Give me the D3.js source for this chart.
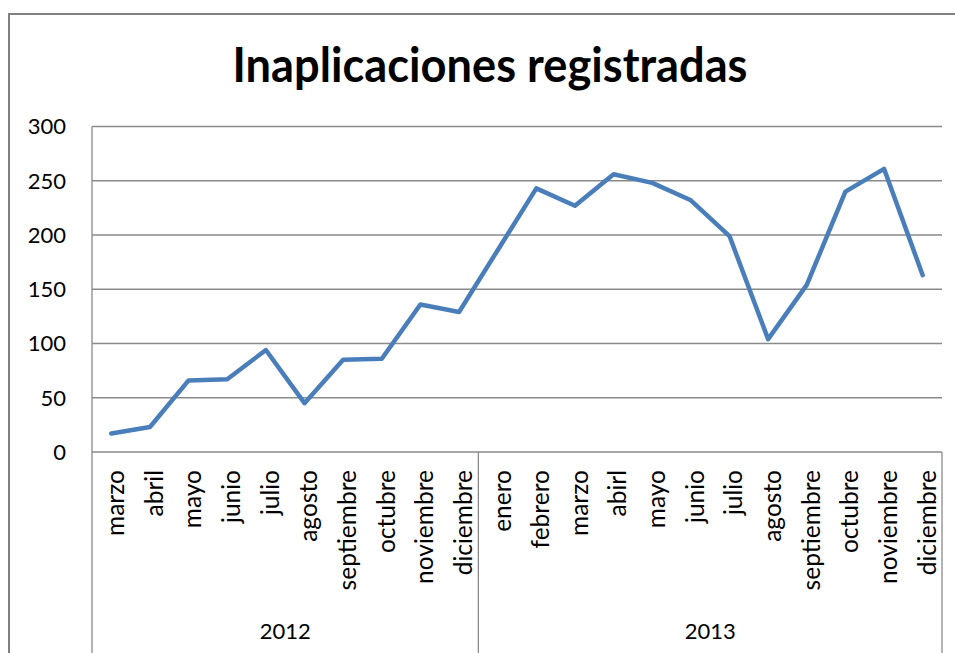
<!DOCTYPE html>
<html>
<head>
<meta charset="utf-8">
<script src="https://cdn.jsdelivr.net/npm/d3@7"></script>
<style>
  html, body { margin: 0; padding: 0; background: #fff; overflow: hidden; }
  text { font-family: Lato, "Open Sans", sans-serif; fill: #000; }
</style>
</head>
<body>
<div id="chart"></div>
<script>
const title = "Inaplicaciones registradas";
const years = ["2012", "2013"];
const months2012 = ["marzo", "abril", "mayo", "junio", "julio", "agosto", "septiembre", "octubre", "noviembre", "diciembre"];
const months2013 = ["enero", "febrero", "marzo", "abirl", "mayo", "junio", "julio", "agosto", "septiembre", "octubre", "noviembre", "diciembre"];
const values2012 = [17, 23, 66, 67, 94, 45, 85, 86, 136, 129];
const values2013 = [186, 243, 227, 256, 248, 232, 199, 104, 154, 240, 261, 163];
const yTicks = [0, 50, 100, 150, 200, 250, 300];

(function () {
  const width = 955;
  const height = 653;
  const margin = { top: 126.5, bottom: 201, left: 92, right: 13 };

  // flatten year / month into one list of points
  const points = [
    ...months2012.map((m, i) => ({ year: years[0], month: m, value: values2012[i] })),
    ...months2013.map((m, i) => ({ year: years[1], month: m, value: values2013[i] })),
  ].map((d, i) => ({ ...d, key: i }));

  const svg = d3.select("#chart").append("svg").attr("width", width).attr("height", height);

  // outer chart frame (cut by the page on the right and bottom)
  svg.append("rect")
    .attr("x", 9).attr("y", 14)
    .attr("width", 1000).attr("height", 700)
    .attr("fill", "none")
    .attr("stroke", "#808080")
    .attr("stroke-width", 2);

  svg.append("text")
    .attr("x", 490).attr("y", 82)
    .attr("text-anchor", "middle")
    .attr("font-size", "47px")
    .attr("font-weight", "bold")
    .attr("textLength", 515)
    .attr("lengthAdjust", "spacingAndGlyphs")
    .text(title);

  const x = d3.scaleBand().domain(points.map(d => d.key)).range([margin.left, width - margin.right]);
  const y = d3.scaleLinear().domain([0, 300]).range([height - margin.bottom, margin.top]);

  const gridColor = "#8a8a8a";

  svg.append("g")
    .selectAll("line")
    .data(yTicks)
    .join("line")
    .attr("x1", margin.left).attr("x2", width - margin.right)
    .attr("y1", d => y(d)).attr("y2", d => y(d))
    .attr("stroke", gridColor)
    .attr("stroke-width", 1.3);

  svg.append("g")
    .selectAll("text")
    .data(yTicks)
    .join("text")
    .attr("x", 66)
    .attr("y", d => y(d))
    .attr("dy", "0.36em")
    .attr("text-anchor", "end")
    .attr("font-size", "22px")
    .attr("fill", "#1a1a1a")
    .text(d => d);

  // category axis box: left axis, year separator, right edge
  const yearBounds = years.map(yr => {
    const keys = points.filter(d => d.year === yr).map(d => d.key);
    return { year: yr, x0: x(keys[0]), x1: x(keys[keys.length - 1]) + x.bandwidth() };
  });
  const edges = [margin.left, ...yearBounds.map(d => d.x1)];

  svg.append("g")
    .selectAll("line")
    .data(edges)
    .join("line")
    .attr("x1", d => d).attr("x2", d => d)
    .attr("y1", (d, i) => (i === 0 ? margin.top : y(0)))
    .attr("y2", height)
    .attr("stroke", gridColor)
    .attr("stroke-width", 1.3);

  svg.append("g")
    .selectAll("text")
    .data(points)
    .join("text")
    .attr("transform", d => `translate(${x(d.key) + x.bandwidth() / 2 + 4}, 470) rotate(-90)`)
    .attr("dy", "0.36em")
    .attr("text-anchor", "end")
    .attr("font-size", "24.5px")
    .attr("fill", "#1a1a1a")
    .text(d => d.month);

  svg.append("g")
    .selectAll("text")
    .data(yearBounds)
    .join("text")
    .attr("x", d => (d.x0 + d.x1) / 2)
    .attr("y", 639)
    .attr("text-anchor", "middle")
    .attr("font-size", "22px")
    .attr("fill", "#1a1a1a")
    .text(d => d.year);

  const line = d3.line()
    .x(d => x(d.key) + x.bandwidth() / 2)
    .y(d => y(d.value));

  svg.append("path")
    .datum(points)
    .attr("d", line)
    .attr("fill", "none")
    .attr("stroke", "#4a7ebb")
    .attr("stroke-width", 4.5)
    .attr("stroke-linejoin", "round")
    .attr("stroke-linecap", "round");
})();
</script>
</body>
</html>
